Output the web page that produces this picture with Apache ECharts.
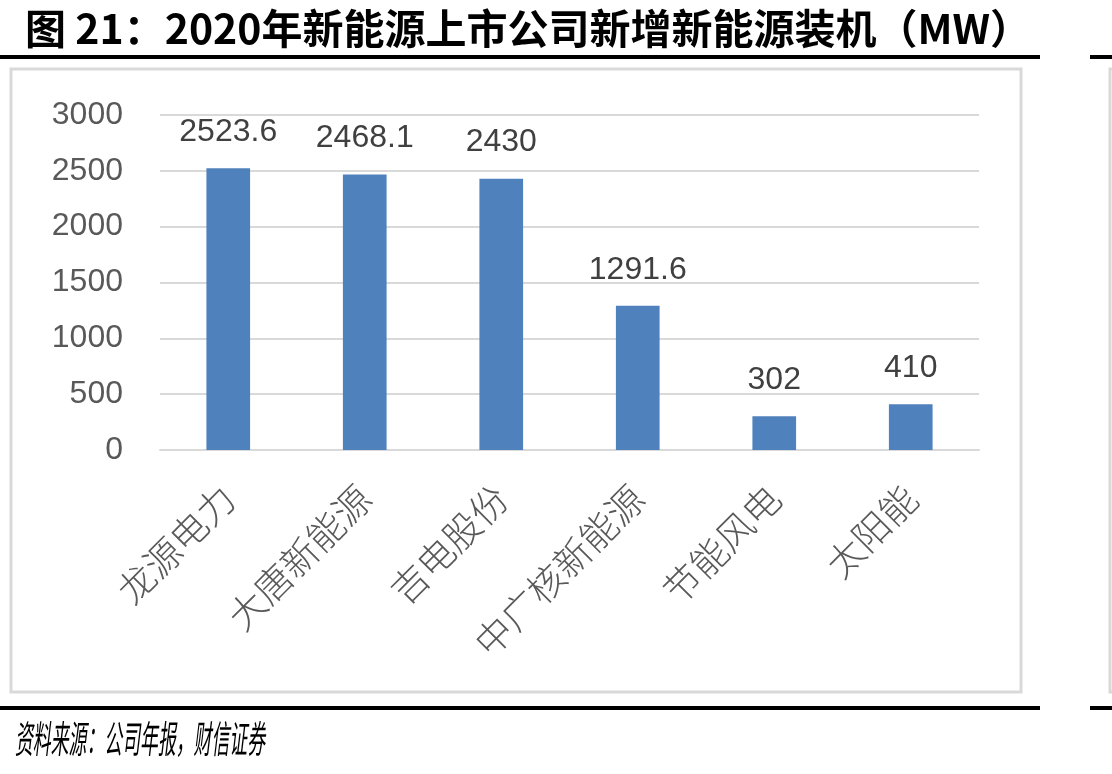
<!DOCTYPE html>
<html>
<head>
<meta charset="utf-8">
<script src="https://cdn.jsdelivr.net/npm/echarts@6/dist/echarts.min.js"></script>
<style>
  html, body { margin: 0; padding: 0; background: #fff; }
  #chart { width: 1112px; height: 774px; }
</style>
</head>
<body>
<div id="chart"></div>
<script>
// 数据
const companies = ['龙源电力', '大唐新能源', '吉电股份', '中广核新能源', '节能风电', '太阳能']
const newCapacity = [2523.6, 2468.1, 2430, 1291.6, 302, 410]
const yTicks = [0, 500, 1000, 1500, 2000, 2500, 3000]

const titleText = '图 21：2020年新能源上市公司新增新能源装机（MW）'
const sourceText = '资料来源：公司年报，财信证券'

const chart = echarts.init(document.getElementById('chart'))

chart.setOption({
  backgroundColor: '#fff',
  animation: false,
  graphic: [
    // 标题
    {
      type: 'text', x: 25, y: 8,
      style: { text: titleText, font: 'bold 41px "Noto Sans CJK SC"', fill: '#000' }
    },
    // 上下黑线
    { type: 'rect', shape: { x: 0, y: 55, width: 1040, height: 4 }, style: { fill: '#000' } },
    { type: 'rect', shape: { x: 1090, y: 55, width: 22, height: 4 }, style: { fill: '#000' } },
    { type: 'rect', shape: { x: 0, y: 706, width: 1040, height: 4 }, style: { fill: '#000' } },
    { type: 'rect', shape: { x: 1090, y: 706, width: 22, height: 4 }, style: { fill: '#000' } },
    // 图表边框
    {
      type: 'rect', shape: { x: 11, y: 69, width: 1010, height: 623 },
      style: { fill: 'none', stroke: '#d9d9d9', lineWidth: 3 }
    },
    {
      type: 'rect', shape: { x: 1110, y: 69, width: 6, height: 623 },
      style: { fill: 'none', stroke: '#d9d9d9', lineWidth: 3 }
    },
    // 资料来源
    {
      type: 'text', x: 15, y: 720, scaleX: 0.47,
      style: { text: sourceText, font: 'italic 38px "Noto Sans CJK SC"', fill: '#000' }
    }
  ],
  grid: { left: 160, right: 133, top: 115, bottom: 324, containLabel: false },
  xAxis: {
    type: 'category',
    data: companies,
    axisLine: { show: true, lineStyle: { color: '#d9d9d9', width: 2 } },
    axisTick: { show: false },
    axisLabel: {
      rotate: 45,
      margin: 42,
      interval: 0,
      color: '#595959',
      fontSize: 37,
      fontWeight: 300,
      fontFamily: '"Noto Sans CJK SC"'
    }
  },
  yAxis: {
    type: 'value',
    min: yTicks[0],
    max: yTicks[yTicks.length - 1],
    interval: 500,
    axisLine: { show: false },
    axisTick: { show: false },
    splitLine: { lineStyle: { color: '#d9d9d9', width: 2 } },
    axisLabel: {
      margin: 37,
      color: '#595959',
      fontSize: 32,
      fontFamily: '"Liberation Sans"',
      formatter: v => String(v)
    }
  },
  series: [{
    type: 'bar',
    data: newCapacity,
    barWidth: '32%',
    itemStyle: { color: '#4F81BD' },
    label: {
      show: true,
      position: 'top',
      distance: 20,
      color: '#404040',
      fontSize: 32,
      fontFamily: '"Liberation Sans"'
    }
  }]
})
</script>
</body>
</html>
